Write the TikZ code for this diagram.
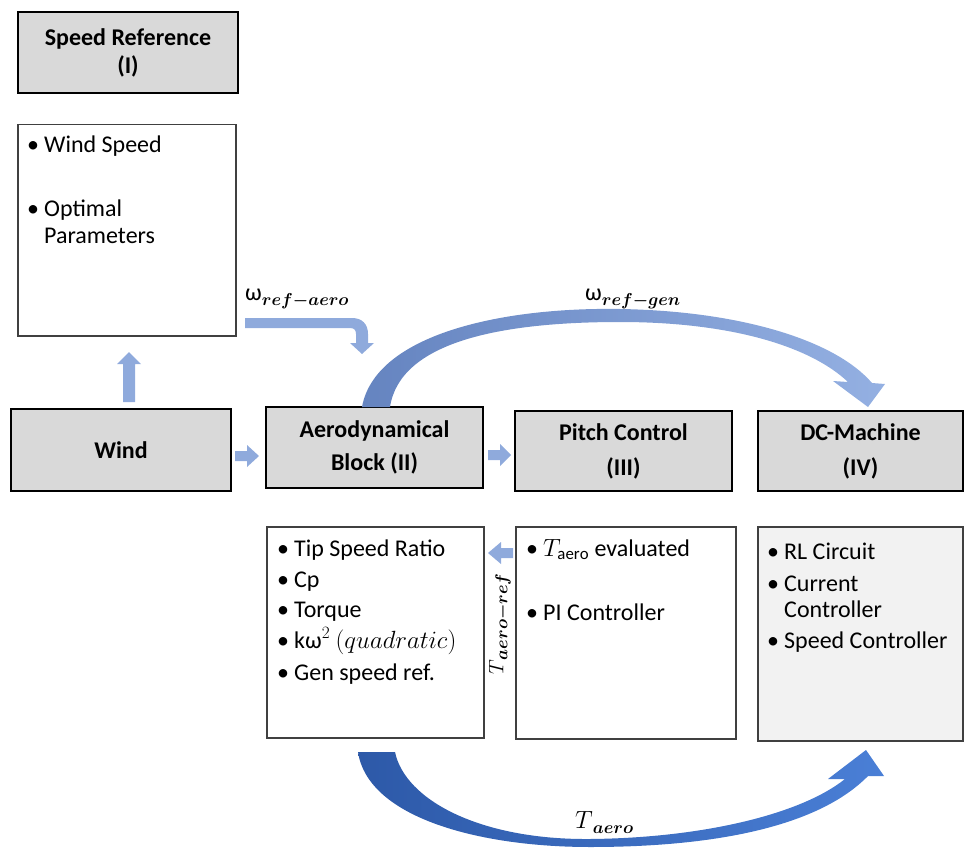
\documentclass[tikz,border=0pt]{standalone}
\usepackage{amsmath,amssymb}
\usepackage{fontspec}
\setmainfont{Carlito}
\definecolor{hdrgray}{HTML}{D9D9D9}
\definecolor{dcgray}{HTML}{F2F2F2}
\definecolor{boxline}{HTML}{404040}
\definecolor{lblue}{HTML}{8FAADC}
\definecolor{mblueL}{HTML}{6584C0}
\definecolor{mblueR}{HTML}{94B0E2}
\definecolor{dblueL}{HTML}{2D59A8}
\definecolor{dblueR}{HTML}{4A7FD6}
\newcommand\bul{\makebox[17pt][l]{•}}
\newcommand\subb[1]{\raisebox{-5pt}{\fontsize{18}{18}\selectfont$\boldsymbol{#1}$}}
\newcommand\subs[1]{\raisebox{-4pt}{\fontsize{16}{16}\selectfont$\boldsymbol{#1}$}}
\begin{document}
\begin{tikzpicture}[x=1pt,y=-1pt,
  hdr/.style={draw=black, line width=2pt, fill=hdrgray, anchor=north west, inner sep=0pt,
    align=center, font=\bfseries\fontsize{24}{28}\selectfont},
  lst/.style={draw=boxline, line width=1.5pt, fill=white, anchor=north west, inner sep=0pt},
  item/.style={anchor=base west, inner sep=0pt, font=\fontsize{24}{26}\selectfont},
  lbl/.style={inner sep=0pt, font=\fontsize{24}{24}\selectfont},
  blk/.style={fill=lblue, draw=none}]
\useasboundingbox (0,0) rectangle (964,848);

% header boxes
\node[hdr, minimum width=220pt, minimum height=81pt] (sref) at (17,11) {Speed Reference\\(I)};
\node[hdr, minimum width=220pt, minimum height=82pt] (wind) at (10,408) {Wind};
\node[hdr, minimum width=217pt, minimum height=81pt, font=\bfseries\fontsize{24}{33}\selectfont] (aero) at (265,406) {Aerodynamical\\Block (II)};
\node[hdr, minimum width=217pt, minimum height=80pt, font=\bfseries\fontsize{24}{35}\selectfont] (pitch) at (514,410) {Pitch Control\\(III)};
\node[hdr, minimum width=205pt, minimum height=80pt, font=\bfseries\fontsize{24}{35}\selectfont] (dc) at (757,410) {DC-Machine\\(IV)};

% list boxes
\node[lst, minimum width=218pt, minimum height=211pt] (srefl) at (17,124) {};
\node[lst, minimum width=217pt, minimum height=211pt] (aerol) at (266,526) {};
\node[lst, minimum width=220pt, minimum height=212pt] (pitchl) at (515,526) {};
\node[lst, minimum width=205pt, minimum height=214pt, fill=dcgray] (dcl) at (757,526) {};

% list items
\node[item] (s1) at (27,153) {\bul Wind Speed};
\node[item] (s2) at (27,216) {\bul Optimal};
\node[item] (s3) at (44,243) {Parameters};

\node[item] (a1) at (277,556) {\bul Tip Speed Ratio};
\node[item] (a2) at (277,587) {\bul Cp};
\node[item] (a3) at (277,617) {\bul Torque};
\node[item] (a4) at (277,648) {\bul kω$^2$ $(quadratic)$};
\node[item] (a5) at (277,680) {\bul Gen speed ref.};

\node[item] (p1) at (526,556) {\bul $T_{\mathrm{aero}}$ evaluated};
\node[item] (p2) at (526,620) {\bul PI Controller};

\node[item] (d1) at (767,559) {\bul RL Circuit};
\node[item] (d2) at (767,591) {\bul Current};
\node[item] (d3) at (784,617) {Controller};
\node[item] (d4) at (767,648) {\bul Speed Controller};

% straight block arrows
\path[blk] (123,402) -- (123,364) -- (117,364) -- (129,352) -- (141,364) -- (135,364) -- (135,402) -- cycle;
\path[blk] (235,451) -- (247,451) -- (247,445) -- (259,456) -- (247,467) -- (247,461) -- (235,461) -- cycle;
\path[blk] (488,450) -- (500,450) -- (500,444) -- (511,455) -- (500,466) -- (500,460) -- (488,460) -- cycle;
\path[blk] (513,548) -- (501,548) -- (501,542) -- (488,553) -- (501,564) -- (501,558) -- (513,558) -- cycle;

% bent arrow omega_ref-aero
\path[blk] (245,318) -- (352,318) .. controls (362,318) and (368,324) .. (368,334) -- (368,343)
  -- (374,343) -- (362,354) -- (350,343) -- (356,343) -- (356,334)
  .. controls (356,330) and (354,328) .. (350,328) -- (245,328) -- cycle;

% curved arrow omega_ref-gen
\shade[left color=mblueL, right color=mblueR]
  (362,407) .. controls (375,335) and (500,307) .. (620,309)
  .. controls (740,311) and (835,340) .. (872,383)
  -- (885,384) -- (868,407) -- (833,381) -- (848,382)
  .. controls (810,346) and (730,322) .. (620,322)
  .. controls (500,322) and (400,342) .. (390,407) -- cycle;

% curved arrow T_aero
\shade[left color=dblueL, right color=dblueR]
  (358,752) .. controls (368,818) and (480,847) .. (590,847)
  .. controls (720,847) and (820,825) .. (868,776)
  -- (884,776) -- (866,750) -- (828,779) -- (845,779)
  .. controls (800,815) and (700,838) .. (590,839)
  .. controls (480,840) and (405,800) .. (395,752) -- cycle;

% labels
\node[lbl, anchor=base west] (lra) at (245,300) {ω\subb{ref{-}aero}};
\node[lbl, anchor=base west] (lrg) at (585,300) {ω\subb{ref{-}gen}};
\node[lbl, rotate=90, font=\fontsize{22}{22}\selectfont] (ltr) at (500,624) {$T$\subs{aero{-}ref}};
\node[lbl, anchor=base west] (lta) at (575,828) {$T$\subb{aero}};
\end{tikzpicture}
\end{document}
